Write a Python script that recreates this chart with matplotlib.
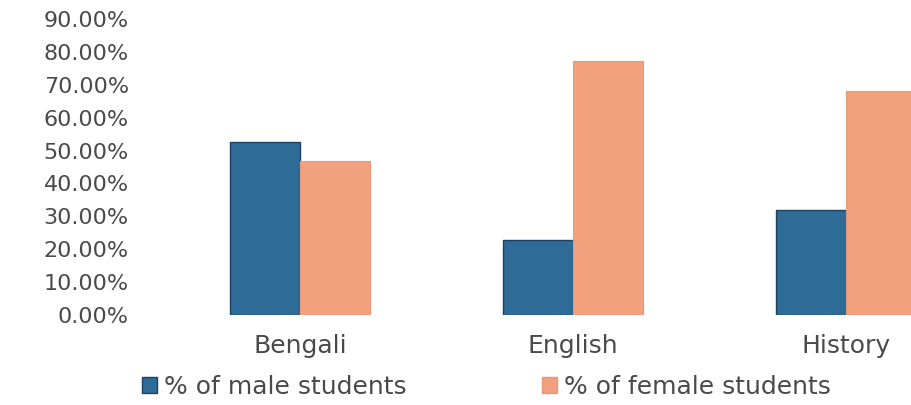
import matplotlib.pyplot as plt
import numpy as np
from matplotlib.patches import Patch
from matplotlib.ticker import PercentFormatter

subjects = ["Bengali", "English", "History"]
male_pct = [52.6, 22.9, 31.8]
female_pct = [46.8, 77.1, 68.2]
y_ticks = [0, 10, 20, 30, 40, 50, 60, 70, 80, 90]

series_labels = ["% of male students", "% of female students"]
male_color = "#2f6b97"
female_color = "#f3a07f"
text_color = "#4a4a4a"

plt.rcParams["font.family"] = "DejaVu Sans"

fig = plt.figure(figsize=(9.11, 4.05), dpi=100)
# plot area runs past the right edge of the figure, so the last bar is cut off
ax = fig.add_axes([0.1795, 0.2222, 0.899, 0.7309])

x = np.arange(len(subjects))
w = 0.256
ax.bar(x - w / 2, male_pct, w, color=male_color, edgecolor="#1f4260", linewidth=1)
ax.bar(x + w / 2, female_pct, w, color=female_color, edgecolor="#e8987a", linewidth=0.8)

ax.set_xlim(-0.5, 2.5)
ax.set_ylim(0, 90)
ax.set_yticks(y_ticks)
ax.yaxis.set_major_formatter(PercentFormatter(decimals=2))
ax.set_xticks(x)
ax.set_xticklabels(subjects)

ax.tick_params(axis="y", length=0, pad=25, labelsize=16, labelcolor=text_color)
ax.tick_params(axis="x", length=0, pad=14, labelsize=18, labelcolor=text_color)
for s in ax.spines.values():
    s.set_visible(False)

handles = [Patch(facecolor=male_color, edgecolor="#1f4260"),
           Patch(facecolor=female_color, edgecolor="#e8987a")]
fig.legend(handles, series_labels, loc="center left", bbox_to_anchor=(0.131, 0.045),
           ncol=2, frameon=False, fontsize=18, labelcolor=text_color,
           handlelength=0.6, handleheight=0.6, handletextpad=0.3, columnspacing=5.4)

fig.savefig("out.png", dpi=100)
